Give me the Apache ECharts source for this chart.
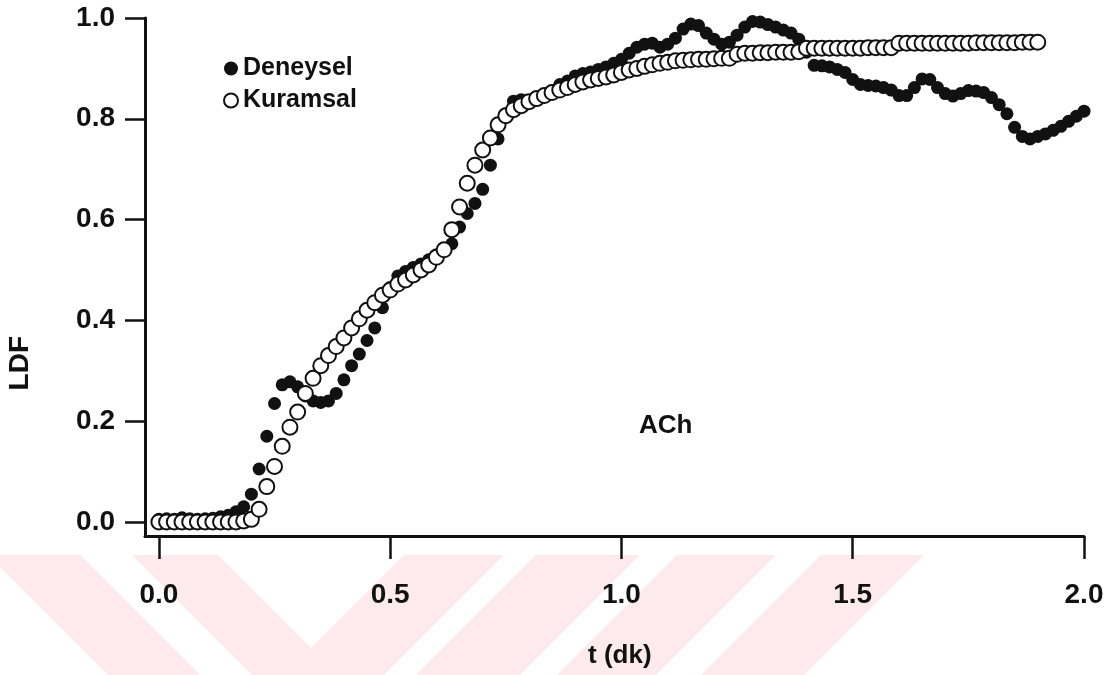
<!DOCTYPE html>
<html>
<head>
<meta charset="utf-8">
<title>LDF - ACh</title>
<script src="https://cdn.jsdelivr.net/npm/echarts@6/dist/echarts.min.js"></script>
<style>
  html, body { margin: 0; padding: 0; background: #fff; }
  #chart { width: 1119px; height: 675px; }
</style>
</head>
<body>
<div id="chart"></div>
<script>
// sampling step: one reading per second, axis in minutes (dk)
const dt = 1 / 60;

// Deneysel (measured), t = 0 .. 2.0 dk
const deneysel = [
  0.005, 0.006, 0.005, 0.008, 0.006, 0.005, 0.006, 0.007, 0.010, 0.013,
  0.020, 0.030, 0.055, 0.105, 0.170, 0.235, 0.272, 0.278, 0.268, 0.250,
  0.240, 0.237, 0.240, 0.255, 0.282, 0.310, 0.333, 0.360, 0.385, 0.425,
  0.465, 0.488, 0.497, 0.505, 0.512, 0.520, 0.530, 0.540, 0.552, 0.585,
  0.612, 0.632, 0.660, 0.708, 0.760, 0.810, 0.835, 0.838, 0.835, 0.840,
  0.848, 0.855, 0.868, 0.875, 0.885, 0.890, 0.893, 0.898, 0.903, 0.910,
  0.918, 0.930, 0.942, 0.948, 0.950, 0.942, 0.948, 0.960, 0.978, 0.988,
  0.985, 0.970, 0.958, 0.948, 0.952, 0.966, 0.982, 0.993, 0.992, 0.987,
  0.982, 0.976, 0.970, 0.958, 0.932, 0.906, 0.905, 0.903, 0.898, 0.892,
  0.878, 0.868, 0.866, 0.865, 0.862, 0.857, 0.846, 0.846, 0.862, 0.879,
  0.878, 0.862, 0.850, 0.845, 0.850, 0.856, 0.855, 0.852, 0.842, 0.828,
  0.810, 0.783, 0.765, 0.760, 0.765, 0.770, 0.777, 0.785, 0.795, 0.805,
  0.815
];

// Kuramsal (model), t = 0 .. 1.9 dk
const kuramsal = [
  0.000, 0.000, 0.000, 0.000, 0.000, 0.000, 0.000, 0.000, 0.000, 0.000,
  0.000, 0.002, 0.005, 0.025, 0.070, 0.110, 0.150, 0.188, 0.218, 0.255,
  0.285, 0.310, 0.330, 0.348, 0.365, 0.385, 0.403, 0.420, 0.435, 0.450,
  0.460, 0.472, 0.480, 0.490, 0.500, 0.510, 0.525, 0.540, 0.580, 0.625,
  0.672, 0.708, 0.738, 0.762, 0.788, 0.806, 0.818, 0.826, 0.834, 0.840,
  0.846, 0.852, 0.857, 0.862, 0.868, 0.873, 0.877, 0.880, 0.883, 0.887,
  0.892, 0.897, 0.900, 0.904, 0.907, 0.910, 0.912, 0.915, 0.916, 0.917,
  0.918, 0.918, 0.919, 0.920, 0.920, 0.928, 0.930, 0.930, 0.931, 0.931,
  0.932, 0.932, 0.932, 0.933, 0.940, 0.940, 0.940, 0.940, 0.940, 0.940,
  0.940, 0.940, 0.941, 0.941, 0.941, 0.941, 0.950, 0.950, 0.950, 0.950,
  0.950, 0.950, 0.950, 0.950, 0.950, 0.950, 0.951, 0.951, 0.951, 0.951,
  0.951, 0.951, 0.952, 0.952, 0.952
];

const xTicks = [0, 0.5, 1.0, 1.5, 2.0];
const yTicks = [0, 0.2, 0.4, 0.6, 0.8, 1.0];

const FONT = 'Liberation Sans, Arial, sans-serif';
const INK = '#111';
const PINK = '#fdeaee';

const toPairs = (arr) => arr.map((v, i) => [i * dt, v]);

// pale watermark bands at the foot of the page
const bands = [
  [[-12, 555], [80, 555], [200, 675], [108, 675]],
  [[132, 555], [218, 555], [311, 648], [404, 555], [504, 555], [384, 675], [252, 675]],
  [[536, 555], [640, 555], [520, 675], [416, 675]],
  [[677, 555], [776, 555], [656, 675], [557, 675]],
  [[821, 555], [924, 555], [804, 675], [701, 675]]
];

const chart = echarts.init(document.getElementById('chart'));

chart.setOption({
  backgroundColor: '#fff',
  animation: false,
  textStyle: { fontFamily: FONT, color: INK },
  grid: { left: 145, right: 35, top: 18, bottom: 139 },
  legend: {
    orient: 'vertical',
    left: 218,
    top: 51,
    itemWidth: 14,
    itemHeight: 14,
    itemGap: 7,
    textStyle: { fontSize: 25, fontWeight: 'bold', color: INK, fontFamily: FONT },
    data: [
      { name: 'Deneysel', icon: 'circle', itemStyle: { color: INK, borderWidth: 0 } },
      { name: 'Kuramsal', icon: 'circle' }
    ]
  },
  xAxis: {
    type: 'value',
    min: -0.03,
    max: 2.0,
    splitLine: { show: false },
    axisLine: { onZero: false, lineStyle: { color: INK, width: 3 } },
    axisTick: {
      inside: false, length: 23, customValues: xTicks,
      lineStyle: { color: INK, width: 2.5 }
    },
    axisLabel: {
      customValues: xTicks, margin: 45,
      fontSize: 28, fontWeight: 'bold', color: INK, fontFamily: FONT,
      formatter: (v) => v.toFixed(1)
    }
  },
  yAxis: {
    type: 'value',
    min: -0.028,
    max: 1.0,
    splitLine: { show: false },
    axisLine: { onZero: false, lineStyle: { color: INK, width: 3 } },
    axisTick: {
      inside: false, length: 20, customValues: yTicks,
      lineStyle: { color: INK, width: 2.5 }
    },
    axisLabel: {
      customValues: yTicks, margin: 30,
      fontSize: 28, fontWeight: 'bold', color: INK, fontFamily: FONT,
      formatter: (v) => v.toFixed(1)
    }
  },
  graphic: [
    ...bands.map((pts) => ({
      type: 'polygon', z: -10, silent: true,
      shape: { points: pts },
      style: { fill: PINK }
    })),
    {
      type: 'text', left: 6, top: 336, rotation: Math.PI / 2, z: 10,
      style: { text: 'LDF', font: 'bold 28px ' + FONT, fill: INK }
    },
    {
      type: 'text', left: 588, top: 643, z: 10,
      style: { text: 't (dk)', font: 'bold 26px ' + FONT, fill: INK }
    },
    {
      type: 'text', left: 639, top: 413, z: 10,
      style: { text: 'ACh', font: 'bold 26px ' + FONT, fill: INK }
    }
  ],
  series: [
    {
      name: 'Deneysel',
      type: 'scatter',
      data: toPairs(deneysel),
      symbol: 'circle',
      symbolSize: 13,
      itemStyle: { color: INK, opacity: 1 },
      z: 2
    },
    {
      name: 'Kuramsal',
      type: 'scatter',
      data: toPairs(kuramsal),
      symbol: 'circle',
      symbolSize: 15,
      itemStyle: { color: '#fff', borderColor: INK, borderWidth: 2, opacity: 1 },
      z: 3
    }
  ]
});
</script>
</body>
</html>
